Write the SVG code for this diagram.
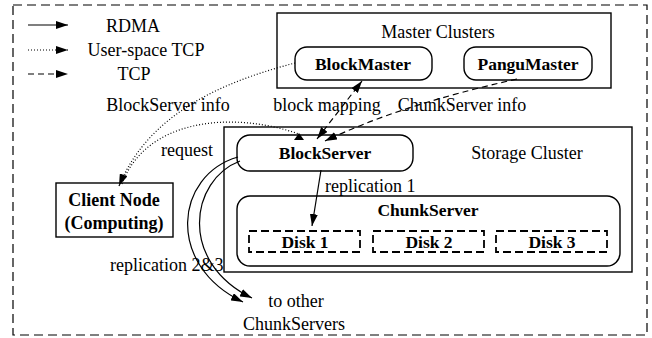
<svg xmlns="http://www.w3.org/2000/svg" width="652" height="338" viewBox="0 0 652 338">
<style>
text{font-family:"Liberation Serif","Times New Roman",serif;font-size:18px;fill:#000}
.b{font-weight:bold;font-size:17.5px}
.m{text-anchor:middle}
.box{fill:#fff;stroke:#000;stroke-width:1.4}
.disk{fill:none;stroke:#000;stroke-width:1.8;stroke-dasharray:8,4}
.c{fill:none;stroke:#000;stroke-width:1.2}
.dot{stroke-dasharray:1,2}
.dash{stroke-dasharray:6,4}
</style>
<defs>
<marker id="ah" viewBox="0 0 12 8" refX="12" refY="4" markerWidth="12" markerHeight="8" markerUnits="userSpaceOnUse" orient="auto-start-reverse">
<path d="M0,0 L12,4 L0,8 Z" fill="#000"/>
</marker>
</defs>
<rect x="13" y="5" width="634" height="330" fill="#fff" stroke="#000" stroke-width="1.2" stroke-dasharray="9,5"/>
<g id="legend">
<line class="c" x1="28" y1="25" x2="68" y2="25" marker-end="url(#ah)"/>
<text x="133" y="32" class="m">RDMA</text>
<line class="c dot" x1="28" y1="50" x2="68" y2="50" marker-end="url(#ah)"/>
<text x="146" y="56" class="m">User-space TCP</text>
<line class="c dash" x1="28" y1="74" x2="68" y2="74" marker-end="url(#ah)"/>
<text x="134" y="80" class="m">TCP</text>
</g>
<g id="master-clusters">
<rect class="box" x="277" y="13" width="334" height="75"/>
<text x="438" y="38" class="m">Master Clusters</text>
</g>
<g id="blockmaster">
<rect class="box" x="295" y="47" width="137" height="33" rx="12"/>
<text x="363" y="70" class="m b">BlockMaster</text>
</g>
<g id="pangumaster">
<rect class="box" x="464" y="47" width="128" height="33" rx="12"/>
<text x="528" y="70" class="m b">PanguMaster</text>
</g>
<g id="storage-cluster">
<rect class="box" x="224" y="127" width="408" height="145"/>
<text x="527" y="159" class="m">Storage Cluster</text>
</g>
<g id="blockserver">
<rect class="box" x="237" y="135" width="176" height="36" rx="13"/>
<text x="325" y="159" class="m b">BlockServer</text>
</g>
<g id="chunkserver">
<rect class="box" x="237" y="196" width="383" height="70" rx="13"/>
<text x="428" y="216" class="m b">ChunkServer</text>
</g>
<g id="disk1">
<rect class="disk" x="249" y="231" width="111" height="21"/>
<text x="305" y="248" class="m b">Disk 1</text>
</g>
<g id="disk2">
<rect class="disk" x="373" y="231" width="111" height="21"/>
<text x="429" y="248" class="m b">Disk 2</text>
</g>
<g id="disk3">
<rect class="disk" x="496" y="231" width="111" height="21"/>
<text x="552" y="248" class="m b">Disk 3</text>
</g>
<g id="client">
<rect class="box" x="56" y="183" width="117" height="54"/>
<text x="114" y="206" class="m b" style="font-size:18px">Client Node</text>
<text x="114" y="229" class="m b" style="font-size:18px">(Computing)</text>
</g>
<g id="connectors">
<path class="c dot" d="M295,63 C230,80 150,110 119,186" marker-end="url(#ah)"/>
<path class="c dot" d="M122,184 C145,120 230,110 299,134"/>
<polygon points="294,140 304,140 299,133" fill="#000"/>
<line class="c dash" x1="317" y1="139" x2="362" y2="81" marker-start="url(#ah)" marker-end="url(#ah)"/>
<path class="c dash" d="M517,79 Q400,105 325,141" marker-end="url(#ah)"/>
<line class="c" x1="321" y1="170" x2="312" y2="226" marker-end="url(#ah)"/>
<path class="c" d="M238,157 C175,175 165,265 243,302" marker-end="url(#ah)"/>
<path class="c" d="M240,161 C190,180 178,262 252,298" marker-end="url(#ah)"/>
</g>
<g id="labels">
<text x="168" y="111" class="m">BlockServer info</text>
<text x="327" y="111" class="m">block mapping</text>
<text x="462" y="111" class="m">ChunkServer info</text>
<text x="187" y="156" class="m">request</text>
<text x="325" y="192">replication 1</text>
<text x="110" y="271">replication 2&amp;3</text>
<text x="296" y="307" class="m">to other</text>
<text x="294" y="330" class="m">ChunkServers</text>
</g>
</svg>
